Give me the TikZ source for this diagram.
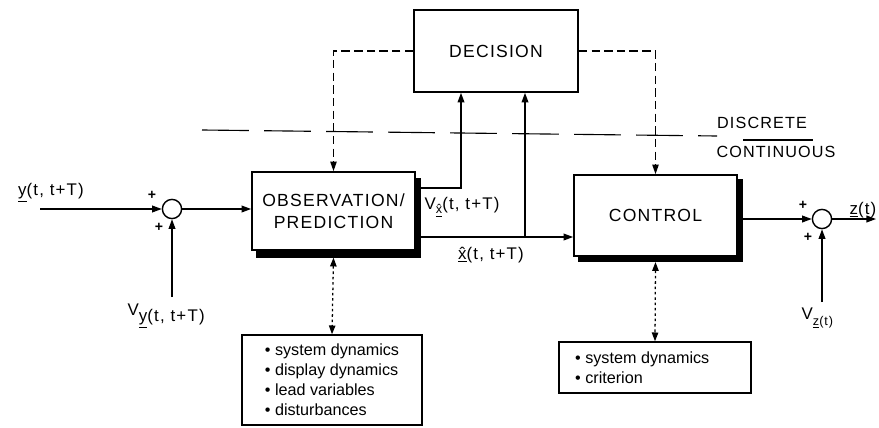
\documentclass[tikz,border=0pt]{standalone}
\usepackage{fontspec}
\setmainfont{Liberation Sans}
\newfontfamily\spaced[LetterSpace=7]{Liberation Sans}
\usetikzlibrary{arrows.meta,backgrounds}

\tikzset{
  blk/.style={draw, line width=1.2pt, fill=white, align=center, font=\spaced\fontsize{12.5}{15.5}\selectfont},
  lst/.style={draw, line width=1pt, align=left, inner xsep=8pt, font=\fontsize{11.5}{14.3}\selectfont},
  sum/.style={draw, circle, line width=1pt, minimum size=0.48cm, inner sep=0pt},
  lbl/.style={font=\spaced\fontsize{12}{14}\selectfont, inner sep=1pt},
  sgn/.style={font=\bfseries\fontsize{10}{10}\selectfont, inner sep=0pt},
  sig/.style={line width=0.9pt, -{Triangle[length=2.4mm,width=1.7mm]}},
  cmd/.style={line width=0.9pt, dash pattern=on 6pt off 3pt, -{Triangle[length=2.4mm,width=1.6mm]}},
  aux/.style={line width=0.9pt, dash pattern=on 1.8pt off 2pt,
    {Triangle[length=2.2mm,width=1.6mm]}-{Triangle[length=2.2mm,width=1.6mm]}},
}

\begin{document}
\begin{tikzpicture}[x=0.025cm, y=-0.025cm]
  \useasboundingbox (0,0) rectangle (879,427);

  % blocks
  \node[blk] (decision) at (496,51) [minimum width=4.1cm, minimum height=2.05cm] {DECISION};
  \node[blk] (obs) at (333.5,211) [minimum width=4.075cm, minimum height=1.95cm] {OBSERVATION/\\PREDICTION};
  \node[blk] (ctrl) at (655.5,215.5) [minimum width=4.075cm, minimum height=2.025cm] {CONTROL};
  \node[lst] (obslist) at (332,380) [minimum width=4.5cm, minimum height=2.25cm]
    {\textbullet\ system dynamics\\\textbullet\ display dynamics\\\textbullet\ lead variables\\\textbullet\ disturbances};
  \node[lst] (ctrllist) at (655,367.5) [minimum width=4.8cm, minimum height=1.275cm]
    {\textbullet\ system dynamics\\\textbullet\ criterion\hspace*{2.3cm}};

  % shadows
  \begin{scope}[on background layer]
    \fill ([xshift=0.12cm,yshift=-0.17cm]obs.south west) rectangle ([xshift=0.12cm,yshift=-0.17cm]obs.north east);
    \fill ([xshift=0.13cm,yshift=-0.13cm]ctrl.south west) rectangle ([xshift=0.13cm,yshift=-0.13cm]ctrl.north east);
  \end{scope}

  % summing points
  \node[sum] (sumin) at (172,209) {};
  \node[sum] (sumout) at (822,219) {};
  \node[sgn] (pa) at (152,195) {+};
  \node[sgn] (pb) at (159,227) {+};
  \node[sgn] (pc) at (803,205) {+};
  \node[sgn] (pd) at (808,237) {+};

  \coordinate (yin) at (40,209);
  \coordinate (vy) at (172,297);
  \coordinate (vz) at (822,302);
  \coordinate (zout) at (876,219);
  \coordinate (vxk) at (461,188);
  \coordinate (xh) at (525,237);

  % signals
  \draw[sig] (yin) -- (sumin);
  \draw[sig] (vy) -- (sumin);
  \draw[sig] (sumin) -- (sumin -| obs.west);
  \draw[sig] ([xshift=0.12cm]obs.east |- vxk) -- (vxk) -- (vxk |- decision.south);
  \draw[sig] ([xshift=0.12cm]obs.east |- xh) -- (ctrl.west |- xh);
  \draw[sig] (xh) -- (xh |- decision.south);
  \draw[sig] ([xshift=0.13cm]ctrl.east |- sumout) -- (sumout);
  \draw[sig] (sumout) -- (zout);
  \draw[sig] (vz) -- (sumout);

  % decisions
  \draw[cmd] (decision.west) -| (obs.north);
  \draw[cmd] (decision.east) -| (ctrl.north);

  % knowledge
  \draw[aux] ([yshift=-0.17cm]obs.south) -- (obslist.north);
  \draw[aux] ([yshift=-0.13cm]ctrl.south) -- (ctrllist.north);

  % discrete / continuous
  \draw[line width=0.8pt, dash pattern=on 1.17cm off 0.38cm] (202,130) -- (717,136);
  \draw[line width=0.8pt] (743,140) -- (813,140);
  \node[lbl, font=\spaced\fontsize{11.5}{13}\selectfont] (disc) at (762,123) {DISCRETE};
  \node[lbl, font=\spaced\fontsize{11.5}{13}\selectfont] (cont) at (776,152) {CONTINUOUS};

  % labels
  \node[lbl] (yinlbl) at (51,193) {\underline{y}(t, t+T)};
  \node[lbl, anchor=west] (vylbl) at (126,316) {V\raisebox{-0.7ex}{\underline{y}(t, t+T)}};
  \node[lbl, anchor=west] (vxlbl) at (423,207) {V\raisebox{-0.5ex}{\small\underline{\^x}}(t, t+T)};
  \node[lbl] (xhlbl) at (491,255) {\underline{\^x}(t, t+T)};
  \node[lbl] (zlbl) at (863,210) {\underline{z}(t)};
  \node[lbl, anchor=west] (vzlbl) at (800,318) {V\raisebox{-0.7ex}{\small\underline{z}(t)}};
\end{tikzpicture}
\end{document}
